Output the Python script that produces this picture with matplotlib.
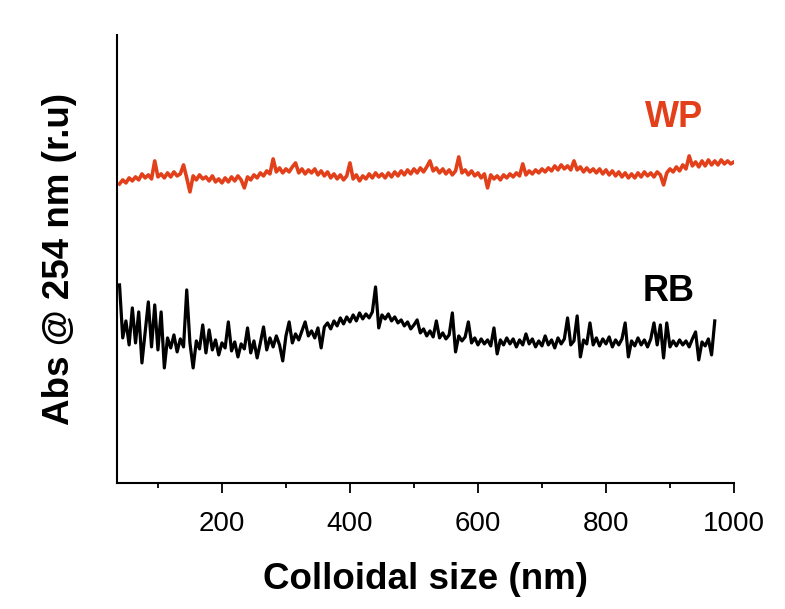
"""Colloidal size distribution of WP and RB fractions (Abs @ 254 nm)."""
import matplotlib

matplotlib.use("Agg")
import matplotlib.pyplot as plt
from matplotlib.ticker import MultipleLocator
import numpy as np

plt.rcParams.update({
    "font.family": ["Liberation Sans", "DejaVu Sans"],
    "axes.spines.right": False,
    "axes.spines.top": False,
})

# ---------------------------------------------------------------------------
# data (relative units, 5 nm steps)
# ---------------------------------------------------------------------------
wp_size = np.arange(40, 1001, 5)
wp_abs = [
    2.99, 3.03, 3.00, 3.05, 3.02, 3.06, 3.03, 3.09, 3.05, 3.08, 3.04, 3.22, 3.06, 3.09, 3.05, 3.10,
    3.06, 3.11, 3.07, 3.09, 3.18, 3.05, 2.91, 3.07, 3.03, 3.08, 3.04, 3.06, 3.02, 3.07, 3.01, 3.04,
    3.00, 3.05, 3.01, 3.06, 3.02, 3.07, 3.03, 2.95, 3.06, 3.03, 3.08, 3.05, 3.10, 3.07, 3.12, 3.09,
    3.24, 3.11, 3.15, 3.10, 3.14, 3.11, 3.16, 3.20, 3.10, 3.14, 3.09, 3.13, 3.10, 3.14, 3.08, 3.12,
    3.07, 3.11, 3.05, 3.09, 3.04, 3.08, 3.03, 3.07, 3.20, 3.04, 3.08, 3.02, 3.07, 3.04, 3.09, 3.05,
    3.10, 3.06, 3.09, 3.05, 3.10, 3.06, 3.11, 3.07, 3.12, 3.08, 3.13, 3.09, 3.14, 3.10, 3.15, 3.11,
    3.16, 3.22, 3.12, 3.15, 3.10, 3.14, 3.09, 3.13, 3.08, 3.12, 3.26, 3.10, 3.13, 3.08, 3.12, 3.07,
    3.10, 3.05, 3.09, 2.95, 3.08, 3.04, 3.07, 3.03, 3.08, 3.05, 3.09, 3.06, 3.10, 3.07, 3.19, 3.08,
    3.12, 3.09, 3.13, 3.10, 3.14, 3.11, 3.15, 3.12, 3.17, 3.13, 3.18, 3.14, 3.17, 3.13, 3.22, 3.13,
    3.16, 3.11, 3.15, 3.11, 3.14, 3.10, 3.14, 3.09, 3.13, 3.08, 3.12, 3.07, 3.11, 3.06, 3.10, 3.05,
    3.09, 3.05, 3.10, 3.06, 3.11, 3.07, 3.10, 3.06, 3.11, 3.08, 2.98, 3.10, 3.14, 3.11, 3.16, 3.12,
    3.18, 3.14, 3.27, 3.17, 3.21, 3.16, 3.22, 3.17, 3.23, 3.18, 3.22, 3.18, 3.23, 3.19, 3.22, 3.19,
    3.21,
]

rb_size = np.arange(40, 971, 5)
rb_abs = [
    1.98, 1.45, 1.62, 1.38, 1.75, 1.40, 1.71, 1.20, 1.50, 1.81, 1.36, 1.78, 1.33, 1.71, 1.15, 1.45,
    1.35, 1.48, 1.31, 1.44, 1.36, 1.93, 1.40, 1.15, 1.42, 1.34, 1.58, 1.30, 1.53, 1.33, 1.43, 1.28,
    1.40, 1.35, 1.61, 1.32, 1.41, 1.26, 1.39, 1.34, 1.55, 1.30, 1.42, 1.25, 1.40, 1.56, 1.33, 1.45,
    1.36, 1.47, 1.38, 1.22, 1.47, 1.61, 1.40, 1.49, 1.43, 1.52, 1.61, 1.47, 1.52, 1.45, 1.55, 1.35,
    1.56, 1.60, 1.54, 1.62, 1.57, 1.65, 1.59, 1.66, 1.61, 1.68, 1.62, 1.70, 1.64, 1.69, 1.65, 1.71,
    1.96, 1.55, 1.68, 1.64, 1.69, 1.62, 1.66, 1.60, 1.63, 1.57, 1.61, 1.54, 1.58, 1.63, 1.50, 1.54,
    1.47, 1.52, 1.46, 1.62, 1.45, 1.50, 1.44, 1.48, 1.70, 1.31, 1.47, 1.42, 1.46, 1.61, 1.40, 1.45,
    1.38, 1.44, 1.39, 1.43, 1.37, 1.55, 1.29, 1.43, 1.38, 1.45, 1.39, 1.44, 1.36, 1.43, 1.38, 1.49,
    1.39, 1.44, 1.36, 1.42, 1.37, 1.47, 1.38, 1.43, 1.35, 1.45, 1.39, 1.44, 1.65, 1.38, 1.42, 1.67,
    1.26, 1.43, 1.39, 1.60, 1.38, 1.45, 1.37, 1.44, 1.39, 1.46, 1.36, 1.43, 1.38, 1.44, 1.60, 1.26,
    1.42, 1.37, 1.45, 1.38, 1.43, 1.36, 1.44, 1.60, 1.38, 1.58, 1.25, 1.60, 1.36, 1.42, 1.37, 1.43,
    1.38, 1.42, 1.36, 1.44, 1.51, 1.23, 1.41, 1.37, 1.44, 1.28, 1.62,
]
assert len(wp_abs) == len(wp_size) and len(rb_abs) == len(rb_size)

WP_COLOR = "#E2401A"

# ---------------------------------------------------------------------------
# figure
# ---------------------------------------------------------------------------
fig = plt.figure(figsize=(7.85, 6.09), dpi=100)
ax = fig.add_axes([0.149, 0.207, 0.786, 0.7357])

ax.plot(wp_size, wp_abs, color=WP_COLOR, lw=2.6)
ax.plot(rb_size, rb_abs, color="black", lw=2.3)

ax.text(906, 3.65, "WP", color=WP_COLOR, fontsize=26, weight="bold", ha="center", va="center")
ax.text(898, 1.91, "RB", color="black", fontsize=26, weight="bold", ha="center", va="center")

ax.set_xlim(36, 1000)
ax.set_ylim(0, 4.48)
ax.xaxis.set_major_locator(MultipleLocator(200))
ax.xaxis.set_minor_locator(MultipleLocator(100))
ax.set_yticks([])
ax.tick_params(axis="x", which="major", length=7, width=1.3, labelsize=20, pad=13)
ax.tick_params(axis="x", which="minor", length=3.5, width=1.3)
for sp in ("left", "bottom"):
    ax.spines[sp].set_linewidth(1.5)

ax.set_xlabel("Colloidal size (nm)", fontsize=26.5, weight="bold", labelpad=18)
ax.set_ylabel("Abs @ 254 nm (r.u)", fontsize=26.5, weight="bold", labelpad=29)

fig.savefig("out.png", dpi=100)
plt.close(fig)
